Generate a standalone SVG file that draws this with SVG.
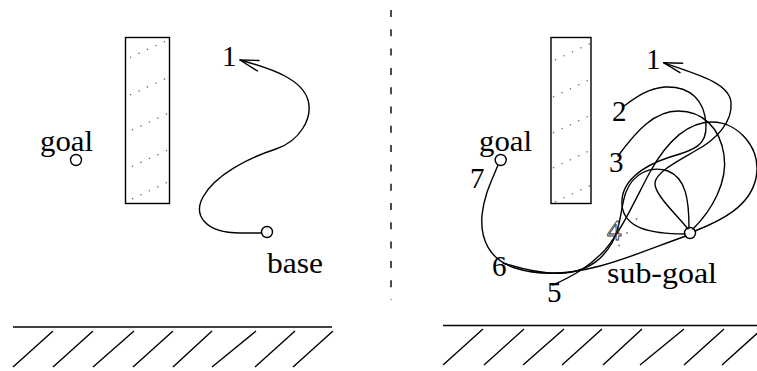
<svg xmlns="http://www.w3.org/2000/svg" width="757" height="371" viewBox="0 0 757 371">
<style>
.t{font-family:"Liberation Serif","Times New Roman",serif;font-size:29px;fill:#000}
.c{fill:none;stroke:#000;stroke-width:1.4;stroke-linecap:round;stroke-linejoin:round}
.o{fill:#fff;stroke:#000;stroke-width:1.4}
.h{fill:none;stroke:#666;stroke-width:1.3;stroke-dasharray:1.3 8}
.g{stroke:#000;stroke-width:1.4;fill:none}
</style>
<rect width="757" height="371" fill="#fff"/>
<defs>
<clipPath id="clL"><rect x="126" y="38" width="43" height="165"/></clipPath>
<clipPath id="clR"><rect x="551" y="38" width="40" height="165"/></clipPath>
</defs>

<!-- left panel -->
<g id="obstacle-left">
<rect x="125.5" y="37.5" width="44" height="166" class="o"/>
<g clip-path="url(#clL)">
<line x1="130" y1="57.5" x2="170" y2="39" class="h"/>
<line x1="130" y1="95" x2="170" y2="76.5" class="h"/>
<line x1="132" y1="130" x2="170" y2="112.5" class="h"/>
<line x1="132" y1="166.5" x2="170" y2="149" class="h"/>
<line x1="132" y1="199" x2="170" y2="181" class="h"/>
</g>
</g>
<g id="goal-left">
<circle cx="76" cy="160" r="5.5" class="o"/>
<text x="40" y="151" class="t" textLength="53" lengthAdjust="spacingAndGlyphs">goal</text>
</g>
<g id="base">
<circle cx="267" cy="232" r="5.5" class="o"/>
<text x="267" y="273" class="t" textLength="56" lengthAdjust="spacingAndGlyphs">base</text>
</g>
<g id="point1-left">
<text x="222" y="66" class="t">1</text>
</g>

<!-- divider -->
<line x1="391" y1="10" x2="391" y2="300" stroke="#000" stroke-width="1.4" stroke-dasharray="7 12.3"/>

<!-- right panel -->
<g id="obstacle-right">
<rect x="551" y="37.5" width="40" height="166" class="o"/>
<g clip-path="url(#clR)">
<line x1="555" y1="60" x2="591" y2="43" class="h"/>
<line x1="553" y1="97" x2="591" y2="79" class="h"/>
<line x1="553" y1="133" x2="591" y2="115" class="h"/>
<line x1="553" y1="168" x2="591" y2="150" class="h"/>
<line x1="555" y1="202" x2="591" y2="185" class="h"/>
</g>
</g>

<g id="connectors">
<!-- left trajectory base -> 1 -->
<path class="c" d="M 261,233 L 240,233 C 205,233 193,215 203,197 C 215,175 248,158 276,149 C 300,141 313,118 308,100 C 302,80 276,70 240,60"/>
<polyline class="c" points="259,60.5 240,60 257.5,71"/>
<!-- right trajectories -->
<path class="c" d="M 688,229 C 676,214 654,194 655,183 C 656,172 678,161 695,151 C 716,140 733,122 731,102 C 729,84 703,76 664,63"/>
<polyline class="c" points="682.7,63.3 663.5,62.7 680,72.7"/>
<path class="c" d="M 685,234 C 650,234 624,228 622,205 C 620,182 642,166 670,157 C 695,150 707,145 706,125 C 705,100 690,86 665,87 C 648,88 635,98 624,106"/>
<path class="c" d="M 693,229 C 712,210 728,182 724,155 C 720,128 703,111 678,111 C 655,111 637,130 618,156"/>
<path class="c" d="M 689,228 C 689,200 686,178 668,171 C 650,165 633,174 626,192 C 620,208 622,225 612,243 C 602,260 590,268 572,272 C 550,276 525,270 503,263"/>
<path class="c" d="M 695,231 C 720,221 750,207 756,178 C 762,148 738,122 712,122 C 685,122 665,145 650,172 C 636,198 622,230 605,250 C 590,266 575,275 553,285"/>
<path class="c" d="M 686,236 C 660,245 630,258 600,266 C 570,274 540,276 515,268 C 490,260 480,240 482,215 C 484,195 492,180 498,165"/>
<g fill="#777">
<circle cx="636.5" cy="219" r="0.9"/>
<circle cx="627" cy="233" r="0.9"/>
<circle cx="619" cy="245.5" r="0.9"/>
</g>
</g>

<g id="goal-right">
<circle cx="500.7" cy="160" r="5.5" class="o"/>
<text x="479" y="151" class="t" textLength="53" lengthAdjust="spacingAndGlyphs">goal</text>
</g>
<g id="sub-goal">
<circle cx="690" cy="233" r="5.5" style="fill:none;stroke:#000;stroke-width:1.4"/>
<text x="607" y="283" class="t" textLength="110" lengthAdjust="spacingAndGlyphs">sub-goal</text>
</g>
<g id="labels-right">
<text x="646" y="69" class="t">1</text>
<text x="612" y="121" class="t">2</text>
<text x="609" y="172" class="t">3</text>
<text x="607" y="240" class="t" style="fill:none;stroke:#333;stroke-width:0.9">4</text>
<text x="547" y="302" class="t">5</text>
<text x="492" y="276" class="t">6</text>
<text x="470" y="188" class="t">7</text>
</g>

<!-- ground -->
<g id="ground-left">
<line x1="13" y1="327" x2="332" y2="327" class="g" stroke-width="1.6"/>
<path class="g" d="M13,367 L53,331 M53,367 L93,331 M93,367 L134,331 M133,367 L173,331 M173,367 L212,331 M212,367 L256,331 M255,367 L295,331 M293,367 L333,331"/>
</g>
<g id="ground-right">
<line x1="443" y1="325.5" x2="757" y2="325.5" class="g" stroke-width="1.6"/>
<path class="g" d="M443,365 L483,329 M484,365 L524,329 M523,365 L564,329 M562,365 L602,329 M603,365 L642,329 M640,365 L684,329 M684,365 L724,329 M722,365 L762,329"/>
</g>
</svg>
